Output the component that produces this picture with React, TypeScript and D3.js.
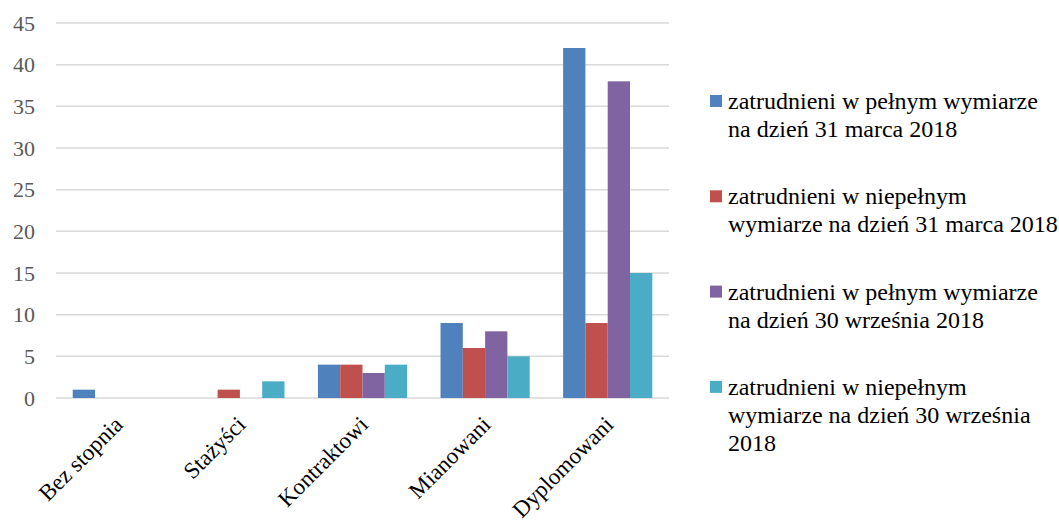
import React from "react";
import * as d3 from "d3";

const categories = ["Bez stopnia", "Stażyści", "Kontraktowi", "Mianowani", "Dyplomowani"];
const seriesNames = [
  "zatrudnieni w pełnym wymiarze na dzień 31 marca 2018",
  "zatrudnieni w niepełnym wymiarze na dzień 31 marca 2018",
  "zatrudnieni w pełnym wymiarze na dzień 30 września 2018",
  "zatrudnieni w niepełnym wymiarze na dzień 30 września 2018",
];
const legendLines = [
  ["zatrudnieni w pełnym wymiarze", "na dzień 31 marca 2018"],
  ["zatrudnieni w niepełnym", "wymiarze na dzień 31 marca 2018"],
  ["zatrudnieni w pełnym wymiarze", "na dzień 30 września 2018"],
  ["zatrudnieni w niepełnym", "wymiarze na dzień 30 września", "2018"],
];
const fullMarch = [1, 0, 4, 9, 42];
const partMarch = [0, 1, 4, 6, 9];
const fullSept = [0, 0, 3, 8, 38];
const partSept = [0, 2, 4, 5, 15];
const seriesValues = [fullMarch, partMarch, fullSept, partSept];
const colors = ["#4F81BD", "#C0504D", "#8064A2", "#4BACC6"];
const yTicks = [0, 5, 10, 15, 20, 25, 30, 35, 40, 45];

const W = 1059;
const H = 522;
const left = 56;
const right = 669;
const top = 23;
const bottom = 398;
const font = '"Times New Roman", "Liberation Serif", Tinos, monospace';

function T(props: {
  x: number;
  y: number;
  size: number;
  fill: string;
  anchor?: string;
  rotate?: number;
  children: React.ReactNode;
}) {
  const { x, y, size, fill, anchor, rotate, children } = props;
  return (
    <text
      x={0}
      y={0}
      textAnchor={anchor || "start"}
      fontSize={size}
      fill={fill}
      style={{ fontFamily: font }}
      transform={`translate(${x},${y})${rotate ? ` rotate(${rotate})` : ""}`}
    >
      {children}
    </text>
  );
}

export default function App() {
  const y = d3.scaleLinear().domain([0, 45]).range([bottom, top]);
  const x = d3.scaleBand<string>().domain(categories).range([left, right]).padding(0);
  const xs = d3
    .scaleBand<number>()
    .domain(d3.range(seriesNames.length))
    .range([0, x.bandwidth()])
    .paddingInner(0)
    .paddingOuter(0.75);

  return (
    <svg width={W} height={H} style={{ position: "absolute", left: 0, top: 0 }}>
      <rect width={W} height={H} fill="#fff" />
      {yTicks.map((t) => (
        <line key={`g${t}`} x1={left} x2={right} y1={y(t)} y2={y(t)} stroke="#D9D9D9" strokeWidth={1.5} />
      ))}
      {yTicks.map((t) => (
        <T key={`t${t}`} x={35} y={y(t) + 7.5} size={22} fill="#595959" anchor="end">
          {t}
        </T>
      ))}
      {seriesValues.map((vals, si) =>
        vals.map((v, ci) =>
          v > 0 ? (
            <rect
              key={`${si}-${ci}`}
              x={(x(categories[ci]) as number) + (xs(si) as number)}
              y={y(v)}
              width={xs.bandwidth()}
              height={y(0) - y(v)}
              fill={colors[si]}
            />
          ) : null
        )
      )}
      {categories.map((c) => {
        const cx = (x(c) as number) + x.bandwidth() / 2;
        return (
          <T key={c} x={cx + 7} y={426} size={23} fill="#000" anchor="end" rotate={-45}>
            {c}
          </T>
        );
      })}
      {legendLines.map((lines, i) => (
        <rect key={`s${i}`} x={710} y={109 + i * 95.3 - 14} width={12} height={12} fill={colors[i]} />
      ))}
      {legendLines.flatMap((lines, i) =>
        lines.map((l, li) => (
          <T key={`l${i}-${li}`} x={728} y={109 + i * 95.3 + li * 28} size={24} fill="#000">
            {l}
          </T>
        ))
      )}
    </svg>
  );
}
